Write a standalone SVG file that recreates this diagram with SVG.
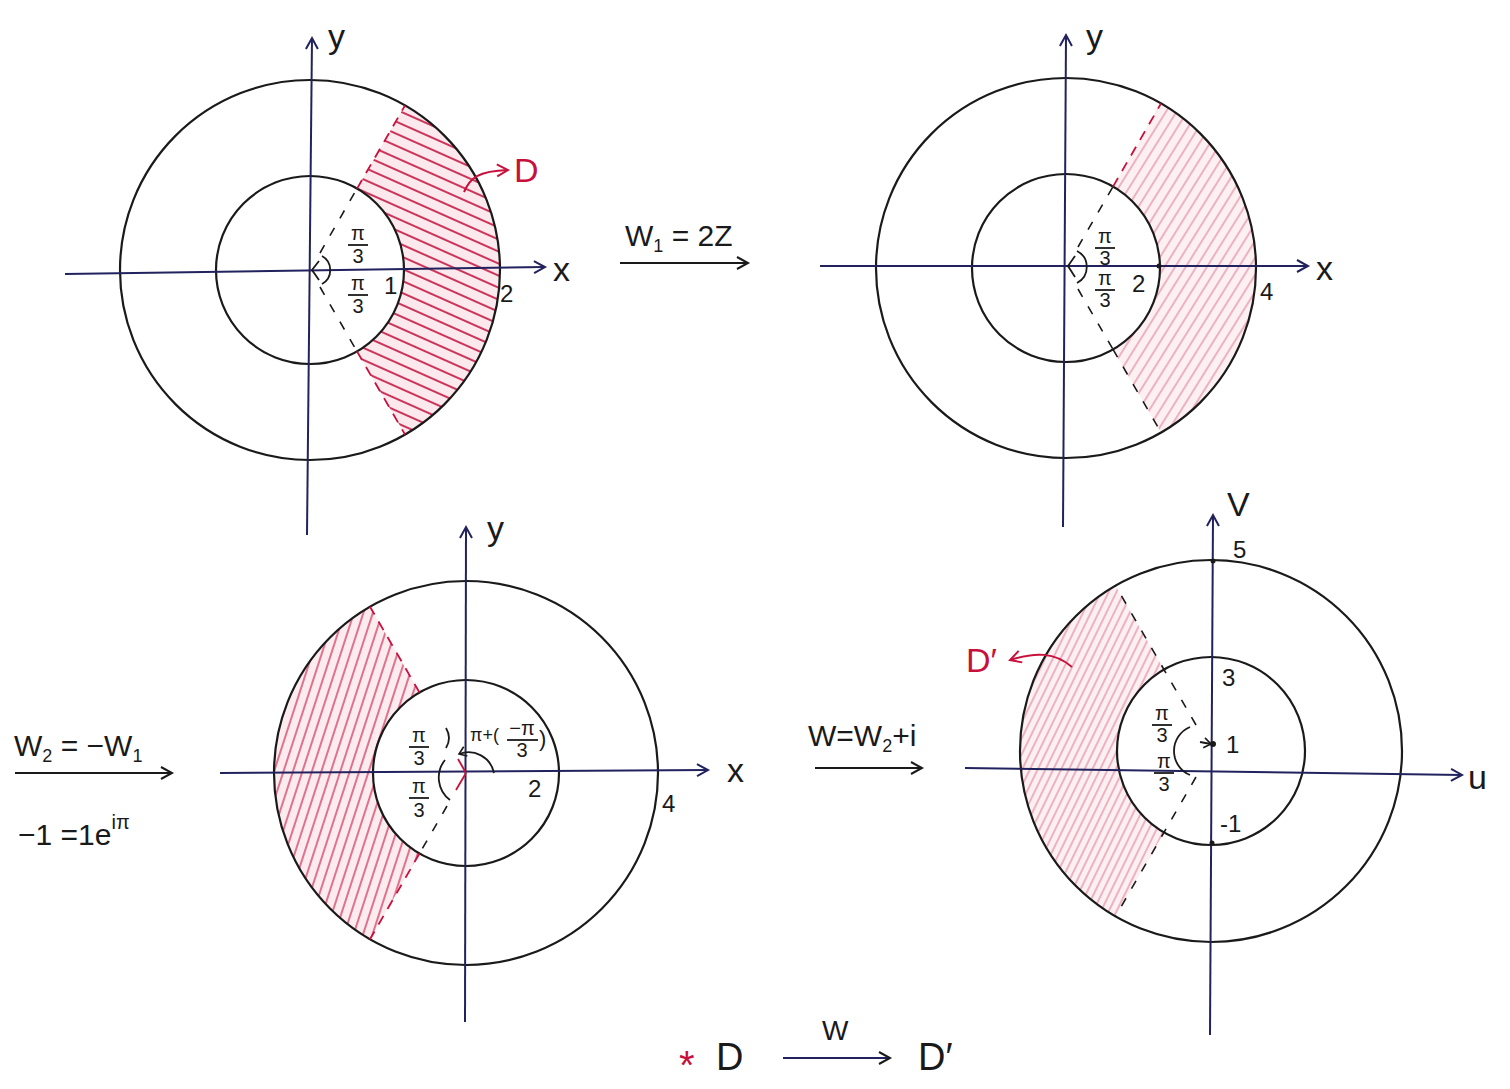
<svg xmlns="http://www.w3.org/2000/svg" width="1510" height="1089" viewBox="0 0 1510 1089">
<style>
.circ{fill:none;stroke:#1a1a1a;stroke-width:2.2}
.axis{fill:none;stroke:#22225e;stroke-width:2}
.ink{fill:none;stroke:#1a1a1a;stroke-width:1.8}
.dash{fill:none;stroke:#1a1a1a;stroke-width:1.6;stroke-dasharray:9 11}
.rdash{fill:none;stroke:#c8103c;stroke-width:1.8;stroke-dasharray:10 8}
.red{fill:none;stroke:#c8103c;stroke-width:2}
.t{font-family:"Liberation Sans","DejaVu Sans",sans-serif;fill:#1a1a1a}
.lbl{font-size:34px}
.num{font-size:24px}
.fr{font-size:20px;text-anchor:middle}
.rt{fill:#c8103c}
</style>
<defs>
<marker id="oa" markerWidth="16" markerHeight="16" refX="13" refY="8" orient="auto" markerUnits="userSpaceOnUse">
<path d="M2,2 L13,8 L2,14" fill="none" stroke="#1a1a1a" stroke-width="2"/>
</marker>
<marker id="oaB" markerWidth="16" markerHeight="16" refX="13" refY="8" orient="auto" markerUnits="userSpaceOnUse">
<path d="M2,2 L13,8 L2,14" fill="none" stroke="#22225e" stroke-width="2"/>
</marker>
<marker id="oaR" markerWidth="16" markerHeight="16" refX="13" refY="8" orient="auto" markerUnits="userSpaceOnUse">
<path d="M2,2 L13,8 L2,14" fill="none" stroke="#c8103c" stroke-width="2"/>
</marker>
<marker id="sa" markerWidth="12" markerHeight="12" refX="9" refY="6" orient="auto" markerUnits="userSpaceOnUse">
<path d="M2,1 L9,6 L2,11" fill="none" stroke="#1a1a1a" stroke-width="1.6"/>
</marker>
<pattern id="h1" width="11" height="11" patternUnits="userSpaceOnUse" patternTransform="rotate(24)">
<line x1="0" y1="5" x2="11" y2="5" stroke="#c4143f" stroke-width="1.7"/>
</pattern>
<pattern id="h2" width="9" height="9" patternUnits="userSpaceOnUse" patternTransform="rotate(-58)">
<line x1="0" y1="4" x2="9" y2="4" stroke="#e07f96" stroke-width="1.1"/>
</pattern>
<pattern id="h3" width="9" height="9" patternUnits="userSpaceOnUse" patternTransform="rotate(-72)">
<line x1="0" y1="4" x2="9" y2="4" stroke="#cf2f55" stroke-width="1.3"/>
</pattern>
<pattern id="h4" width="7" height="7" patternUnits="userSpaceOnUse" patternTransform="rotate(-64)">
<line x1="0" y1="3" x2="7" y2="3" stroke="#e07f96" stroke-width="1.1"/>
</pattern>
</defs>
<rect width="1510" height="1089" fill="#ffffff"/>

<!-- Panel 1 -->
<g id="panel1">
<path d="M357,188.6 L405,105.5 A190,190 0 0 1 405,434.5 L357,351.4 A94,94 0 0 0 357,188.6 Z" fill="#fbe9ee"/>
<path d="M357,188.6 L405,105.5 A190,190 0 0 1 405,434.5 L357,351.4 A94,94 0 0 0 357,188.6 Z" fill="url(#h1)"/>
<circle class="circ" cx="310" cy="270" r="190"/>
<circle class="circ" cx="310" cy="270" r="94"/>
<line class="axis" x1="65" y1="274" x2="545" y2="267" marker-end="url(#oaB)"/>
<line class="axis" x1="307" y1="535" x2="312" y2="38" marker-end="url(#oaB)"/>
<line class="dash" x1="320" y1="253" x2="357" y2="188.6"/>
<line class="dash" x1="320" y1="287" x2="357" y2="351.4"/>
<line class="rdash" x1="357" y1="188.6" x2="405" y2="105.5"/>
<line class="rdash" x1="357" y1="351.4" x2="405" y2="434.5"/>
<path class="ink" d="M319,261 L312,270 L319,280"/>
<path class="ink" d="M322,256 A16,16 0 0 1 322,284"/>
<text class="t fr" x="358" y="240">π</text>
<line class="ink" x1="348" y1="245" x2="368" y2="245"/>
<text class="t fr" x="358" y="263">3</text>
<text class="t fr" x="358" y="290">π</text>
<line class="ink" x1="348" y1="295" x2="368" y2="295"/>
<text class="t fr" x="358" y="313">3</text>
<text class="t num" x="384" y="294">1</text>
<text class="t num" x="500" y="302">2</text>
<text class="t lbl" x="328" y="48">y</text>
<text class="t lbl" x="553" y="281">x</text>
<path class="red" d="M464,192 C470,178 478,171 508,170" marker-end="url(#oaR)"/>
<text class="t lbl rt" x="514" y="182">D</text>
</g>

<!-- Transform 1 -->
<g id="map1">
<text class="t" font-size="30" x="625" y="246">W<tspan font-size="18" dy="6">1</tspan><tspan dy="-6"> = 2Z</tspan></text>
<line x1="620" y1="263" x2="748" y2="263" stroke="#1a1a1a" stroke-width="2" marker-end="url(#oa)"/>
</g>

<!-- Panel 2 -->
<g id="panel2">
<path d="M1113,186.6 L1161,103.5 A190,190 0 0 1 1161,432.5 L1113,349.4 A94,94 0 0 0 1113,186.6 Z" fill="#fdf0f3"/>
<path d="M1113,186.6 L1161,103.5 A190,190 0 0 1 1161,432.5 L1113,349.4 A94,94 0 0 0 1113,186.6 Z" fill="url(#h2)"/>
<circle class="circ" cx="1066" cy="268" r="190"/>
<circle class="circ" cx="1066" cy="268" r="94"/>
<line class="axis" x1="820" y1="266" x2="1308" y2="266" marker-end="url(#oaB)"/>
<line class="axis" x1="1063" y1="527" x2="1066" y2="35" marker-end="url(#oaB)"/>
<line class="dash" x1="1078" y1="247" x2="1113" y2="186.6"/>
<line class="dash" x1="1078" y1="289" x2="1113" y2="349.4"/>
<line class="rdash" x1="1113" y1="186.6" x2="1161" y2="103.5" stroke="#e07f96"/>
<line class="dash" x1="1113" y1="349.4" x2="1161" y2="432.5"/>
<path class="ink" d="M1075,256 L1068,266 L1075,277"/>
<path class="ink" d="M1077,251 A18,18 0 0 1 1077,283"/>
<text class="t fr" x="1105" y="243">π</text>
<line class="ink" x1="1095" y1="248" x2="1115" y2="248"/>
<text class="t fr" x="1105" y="265">3</text>
<text class="t fr" x="1105" y="285">π</text>
<line class="ink" x1="1095" y1="290" x2="1115" y2="290"/>
<text class="t fr" x="1105" y="307">3</text>
<circle cx="1159" cy="266" r="2.5" fill="#1a1a1a"/>
<text class="t num" x="1132" y="292">2</text>
<text class="t num" x="1260" y="300">4</text>
<text class="t lbl" x="1086" y="48">y</text>
<text class="t lbl" x="1316" y="280">x</text>
</g>

<!-- Transform 2 -->
<g id="map2">
<text class="t" font-size="30" x="14" y="756">W<tspan font-size="18" dy="6">2</tspan><tspan dy="-6"> = −W</tspan><tspan font-size="18" dy="6">1</tspan></text>
<line x1="15" y1="773" x2="172" y2="773" stroke="#1a1a1a" stroke-width="2" marker-end="url(#oa)"/>
<text class="t" font-size="30" x="18" y="845">−1 =1e<tspan font-size="20" dy="-16">iπ</tspan></text>
</g>

<!-- Panel 3 -->
<g id="panel3">
<path d="M419.5,692.5 L370,606.7 A192,192 0 0 0 370,939.3 L419.5,853.5 A93,93 0 0 1 419.5,692.5 Z" fill="#fcecf0"/>
<path d="M419.5,692.5 L370,606.7 A192,192 0 0 0 370,939.3 L419.5,853.5 A93,93 0 0 1 419.5,692.5 Z" fill="url(#h3)"/>
<circle class="circ" cx="466" cy="773" r="192"/>
<circle class="circ" cx="466" cy="773" r="93"/>
<line class="axis" x1="220" y1="773" x2="708" y2="770" marker-end="url(#oaB)"/>
<line class="axis" x1="465" y1="1022" x2="466" y2="527" marker-end="url(#oaB)"/>
<line class="rdash" x1="419.5" y1="692.5" x2="370" y2="606.7"/>
<line class="rdash" x1="419.5" y1="853.5" x2="370" y2="939.3"/>
<line class="dash" x1="447" y1="806" x2="419.5" y2="853.5"/>
<line x1="466" y1="773" x2="458" y2="759" stroke="#c8103c" stroke-width="1.8"/>
<line x1="466" y1="773" x2="456" y2="790" stroke="#c8103c" stroke-width="1.8"/>
<path class="ink" d="M446,728 Q452,738 446,748 M445,760 A28,28 0 0 0 450,800"/>
<path class="ink" d="M494,773 A26,26 0 0 0 459,754" marker-end="url(#sa)"/>
<text class="t fr" x="419" y="742">π</text>
<line class="ink" x1="409" y1="747" x2="429" y2="747"/>
<text class="t fr" x="419" y="765">3</text>
<text class="t fr" x="419" y="793">π</text>
<line class="ink" x1="409" y1="798" x2="429" y2="798"/>
<text class="t fr" x="419" y="817">3</text>
<text class="t" font-size="18" x="470" y="741">π+(</text>
<text class="t fr" x="522" y="735">−π</text>
<line class="ink" x1="507" y1="740" x2="538" y2="740"/>
<text class="t fr" x="522" y="757">3</text>
<text class="t" font-size="22" x="539" y="746">)</text>
<text class="t num" x="528" y="797">2</text>
<text class="t num" x="662" y="812">4</text>
<text class="t lbl" x="487" y="540">y</text>
<text class="t lbl" x="727" y="782">x</text>
</g>

<!-- Transform 3 -->
<g id="map3">
<text class="t" font-size="30" x="808" y="746">W=W<tspan font-size="18" dy="6">2</tspan><tspan dy="-6">+i</tspan></text>
<line x1="815" y1="768" x2="922" y2="768" stroke="#1a1a1a" stroke-width="2" marker-end="url(#oa)"/>
</g>

<!-- Panel 4 -->
<g id="panel4">
<path d="M1164,669.6 L1115.5,585.6 A191,191 0 0 0 1115.5,916.4 L1164,832.4 A94,94 0 0 1 1164,669.6 Z" fill="#fdf0f3"/>
<path d="M1164,669.6 L1115.5,585.6 A191,191 0 0 0 1115.5,916.4 L1164,832.4 A94,94 0 0 1 1164,669.6 Z" fill="url(#h4)"/>
<circle class="circ" cx="1211" cy="751" r="191"/>
<circle class="circ" cx="1211" cy="751" r="94"/>
<line class="axis" x1="965" y1="768" x2="1462" y2="775" marker-end="url(#oaB)"/>
<line class="axis" x1="1210" y1="1035" x2="1213" y2="515" marker-end="url(#oaB)"/>
<line class="dash" x1="1196" y1="725" x2="1115.5" y2="585.6"/>
<line class="dash" x1="1196" y1="777" x2="1115.5" y2="916.4"/>
<path class="ink" d="M1190,727 A26,26 0 0 0 1190,775"/>
<path class="ink" d="M1200,742 L1211,744" marker-end="url(#sa)"/>
<circle cx="1213" cy="744" r="3" fill="#1a1a1a"/>
<circle cx="1213" cy="561" r="2.5" fill="#1a1a1a"/>
<circle cx="1212" cy="843" r="2.5" fill="#1a1a1a"/>
<text class="t fr" x="1162" y="720">π</text>
<line class="ink" x1="1152" y1="725" x2="1172" y2="725"/>
<text class="t fr" x="1162" y="742">3</text>
<text class="t fr" x="1164" y="768">π</text>
<line class="ink" x1="1154" y1="773" x2="1174" y2="773"/>
<text class="t fr" x="1164" y="791">3</text>
<text class="t num" x="1233" y="558">5</text>
<text class="t num" x="1222" y="686">3</text>
<text class="t num" x="1226" y="753">1</text>
<text class="t num" x="1220" y="832">-1</text>
<text class="t lbl" x="1227" y="516">V</text>
<text class="t lbl" x="1468" y="789">u</text>
<path class="red" d="M1072,667 C1055,652 1035,652 1010,660" marker-end="url(#oaR)"/>
<text class="t lbl rt" x="966" y="672">D′</text>
</g>

<!-- Legend -->
<g id="legend">
<text class="t rt" font-size="40" x="679" y="1079">*</text>
<text class="t" font-size="38" x="716" y="1070">D</text>
<line x1="783" y1="1058" x2="890" y2="1058" stroke="#22225e" stroke-width="2" marker-end="url(#oa)"/>
<text class="t" font-size="28" x="822" y="1040">W</text>
<text class="t" font-size="38" x="918" y="1070">D′</text>
</g>
</svg>
